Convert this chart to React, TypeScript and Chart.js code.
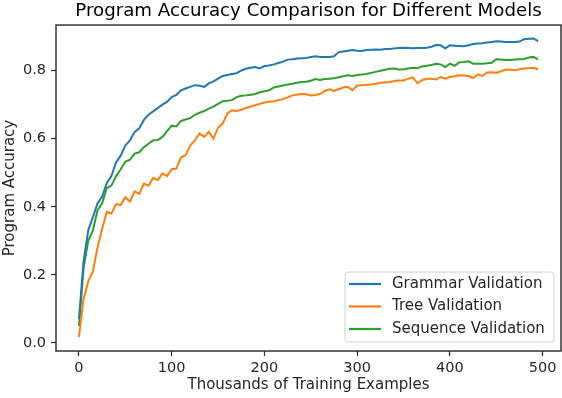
import React, { useEffect, useRef } from "react";
import { Chart, registerables } from "chart.js";

Chart.register(...registerables);

const xs = [
  0, 5, 10, 15, 20, 25, 30, 35, 40, 45, 50, 55, 60, 65, 70, 75, 80, 85, 90, 95,
  100, 105, 110, 115, 120, 125, 130, 135, 140, 145, 150, 155, 160, 165, 170, 175, 180, 185, 190, 195,
  200, 205, 210, 215, 220, 225, 230, 235, 240, 245, 250, 255, 260, 265, 270, 275, 280, 285, 290, 295,
  300, 305, 310, 315, 320, 325, 330, 335, 340, 345, 350, 355, 360, 365, 370, 375, 380, 385, 390, 395,
  400, 405, 410, 415, 420, 425, 430, 435, 440, 445, 450, 455, 460, 465, 470, 475, 480, 485, 490, 495,
];

const grammar = [
  0.07, 0.24, 0.33, 0.37, 0.41, 0.43, 0.47, 0.49, 0.53, 0.55, 0.58, 0.595, 0.62, 0.63, 0.655, 0.67, 0.68, 0.69, 0.7, 0.708,
  0.722, 0.728, 0.742, 0.747, 0.752, 0.757, 0.755, 0.752, 0.762, 0.768, 0.776, 0.784, 0.787, 0.79, 0.792, 0.8, 0.805, 0.808, 0.81, 0.806,
  0.813, 0.815, 0.818, 0.822, 0.826, 0.832, 0.833, 0.835, 0.836, 0.837, 0.84, 0.842, 0.84, 0.84, 0.84, 0.842, 0.854, 0.856, 0.858, 0.86,
  0.858, 0.857, 0.86, 0.861, 0.862, 0.861, 0.863, 0.863, 0.865, 0.866, 0.867, 0.866, 0.865, 0.866, 0.866, 0.867, 0.87, 0.875, 0.874, 0.865,
  0.874, 0.873, 0.872, 0.871, 0.874, 0.878, 0.879, 0.88, 0.882, 0.884, 0.886, 0.885, 0.884, 0.884, 0.884, 0.885, 0.892, 0.893, 0.894, 0.886,
];

const tree = [
  0.018, 0.13, 0.18, 0.21, 0.28, 0.335, 0.385, 0.38, 0.408, 0.405, 0.428, 0.415, 0.445, 0.438, 0.468, 0.462, 0.485, 0.478, 0.498, 0.49,
  0.51, 0.512, 0.545, 0.551, 0.58, 0.595, 0.615, 0.605, 0.62, 0.6, 0.632, 0.645, 0.674, 0.683, 0.681, 0.685, 0.69, 0.694, 0.698, 0.702,
  0.706, 0.708, 0.71, 0.713, 0.716, 0.721, 0.727, 0.729, 0.732, 0.73, 0.727, 0.728, 0.731, 0.74, 0.745, 0.74, 0.745, 0.75, 0.752, 0.742,
  0.756, 0.757, 0.758, 0.759, 0.761, 0.764, 0.765, 0.766, 0.769, 0.771, 0.771, 0.776, 0.78, 0.763, 0.772, 0.776, 0.776, 0.774, 0.781, 0.776,
  0.781, 0.783, 0.786, 0.785, 0.784, 0.778, 0.788, 0.784, 0.794, 0.795, 0.793, 0.798, 0.803, 0.802, 0.801, 0.804, 0.806, 0.807, 0.808, 0.803,
];

const sequence = [
  0.05, 0.22, 0.3, 0.33, 0.39, 0.41, 0.455, 0.462, 0.49, 0.51, 0.532, 0.538, 0.556, 0.56, 0.575, 0.585, 0.595, 0.596, 0.605, 0.622,
  0.638, 0.636, 0.652, 0.656, 0.66, 0.67, 0.676, 0.681, 0.688, 0.694, 0.702, 0.71, 0.711, 0.713, 0.722, 0.726, 0.727, 0.729, 0.731, 0.736,
  0.739, 0.742, 0.75, 0.753, 0.756, 0.759, 0.761, 0.764, 0.766, 0.767, 0.77, 0.775, 0.772, 0.775, 0.776, 0.777, 0.78, 0.783, 0.786, 0.784,
  0.787, 0.788, 0.79, 0.793, 0.796, 0.799, 0.802, 0.805, 0.806, 0.803, 0.804, 0.806, 0.808, 0.807, 0.812, 0.814, 0.816, 0.82, 0.818, 0.81,
  0.82, 0.814, 0.824, 0.825, 0.827, 0.82, 0.82, 0.82, 0.821, 0.823, 0.833, 0.832, 0.831, 0.831, 0.832, 0.833, 0.834, 0.838, 0.84, 0.833,
];

const seriesNames = ["Grammar Validation", "Tree Validation", "Sequence Validation"];
const seriesColors = ["#1f77b4", "#ff7f0e", "#2ca02c"];
const xTicks = [0, 100, 200, 300, 400, 500];
const yTicks = [0, 0.2, 0.4, 0.6, 0.8];

const FONT = "'DejaVu Sans', sans-serif";
const INK = "#262626";

const framePlugin = {
  id: "frame",
  afterDatasetsDraw(chart: any) {
    const { ctx, chartArea: a } = chart;
    ctx.save();
    ctx.strokeStyle = INK;
    ctx.lineWidth = 1.4;
    ctx.strokeRect(a.left, a.top, a.right - a.left, a.bottom - a.top);
    ctx.restore();
  },
};

const legendPlugin = {
  id: "mplLegend",
  afterDraw(chart: any) {
    const { ctx, chartArea: a } = chart;
    const w = 209;
    const h = 70;
    const x = a.right - 7 - w;
    const y = a.bottom - 9 - h;
    ctx.save();
    const r = 3;
    ctx.beginPath();
    ctx.moveTo(x + r, y);
    ctx.lineTo(x + w - r, y);
    ctx.quadraticCurveTo(x + w, y, x + w, y + r);
    ctx.lineTo(x + w, y + h - r);
    ctx.quadraticCurveTo(x + w, y + h, x + w - r, y + h);
    ctx.lineTo(x + r, y + h);
    ctx.quadraticCurveTo(x, y + h, x, y + h - r);
    ctx.lineTo(x, y + r);
    ctx.quadraticCurveTo(x, y, x + r, y);
    ctx.closePath();
    ctx.fillStyle = "rgba(255,255,255,0.8)";
    ctx.fill();
    ctx.strokeStyle = "#d0d0d0";
    ctx.lineWidth = 1;
    ctx.stroke();
    ctx.font = `15px ${FONT}`;
    ctx.textBaseline = "middle";
    ctx.textAlign = "left";
    chart.data.datasets.forEach((ds: any, i: number) => {
      const cy = y + 12 + i * 22.5;
      ctx.strokeStyle = ds.borderColor;
      ctx.lineWidth = 2.2;
      ctx.beginPath();
      ctx.moveTo(x + 4, cy);
      ctx.lineTo(x + 36, cy);
      ctx.stroke();
      ctx.fillStyle = INK;
      ctx.fillText(ds.label, x + 47, cy);
    });
    ctx.restore();
  },
};

export default function App() {
  const ref = useRef<HTMLCanvasElement | null>(null);

  useEffect(() => {
    if (!ref.current) return;
    const series = [grammar, tree, sequence];
    const chart = new Chart(ref.current, {
      type: "line",
      data: {
        datasets: series.map((vals, i) => ({
          label: seriesNames[i],
          data: vals.map((v, j) => ({ x: xs[j], y: v })),
          borderColor: seriesColors[i],
          backgroundColor: seriesColors[i],
          borderWidth: 2,
          pointRadius: 0,
          tension: 0,
          fill: false,
        })),
      },
      options: {
        animation: false,
        responsive: false,
        devicePixelRatio: 1,
        layout: { padding: { left: 0, right: 1, top: 0, bottom: 0 } },
        plugins: {
          legend: { display: false },
          tooltip: { enabled: false },
          title: {
            display: true,
            text: "Program Accuracy Comparison for Different Models",
            color: "#000",
            font: { family: FONT, size: 18.2, weight: "normal" },
            padding: { top: 0, bottom: 3.2 },
            fullSize: false,
          },
        },
        scales: {
          x: {
            type: "linear",
            min: -24.75,
            max: 519.75,
            afterBuildTicks: (s: any) => {
              s.ticks = xTicks.map((v) => ({ value: v }));
            },
            afterFit: (s: any) => {
              s.height = 47;
            },
            ticks: {
              color: INK,
              padding: 4,
              maxRotation: 0,
              font: { family: FONT, size: 14.5 },
              callback: (v: any) => String(v),
            },
            grid: {
              display: true,
              drawOnChartArea: false,
              drawTicks: true,
              tickLength: 5,
              tickColor: INK,
              tickWidth: 1.2,
            },
            border: { display: false },
            title: {
              display: true,
              text: "Thousands of Training Examples",
              color: INK,
              font: { family: FONT, size: 15 },
              padding: { top: 0, bottom: 4 },
            },
          },
          y: {
            type: "linear",
            min: -0.0235,
            max: 0.9335,
            afterBuildTicks: (s: any) => {
              s.ticks = yTicks.map((v) => ({ value: v }));
            },
            afterFit: (s: any) => {
              s.width = 56;
            },
            ticks: {
              color: INK,
              padding: 5,
              font: { family: FONT, size: 14.5 },
              callback: (v: any) => Number(v).toFixed(1),
            },
            grid: {
              display: true,
              drawOnChartArea: false,
              drawTicks: true,
              tickLength: 5,
              tickColor: INK,
              tickWidth: 1.2,
            },
            border: { display: false },
            title: {
              display: true,
              text: "Program Accuracy",
              color: INK,
              font: { family: FONT, size: 15 },
              padding: { top: 1, bottom: 0 },
            },
          },
        },
      },
      plugins: [framePlugin, legendPlugin],
    });
    return () => chart.destroy();
  }, []);

  return (
    <div style={{ position: "fixed", left: 0, top: 0, width: 562, height: 398, background: "#fff" }}>
      <canvas ref={ref} width={562} height={398} style={{ display: "block", width: 562, height: 398 }} />
    </div>
  );
}
